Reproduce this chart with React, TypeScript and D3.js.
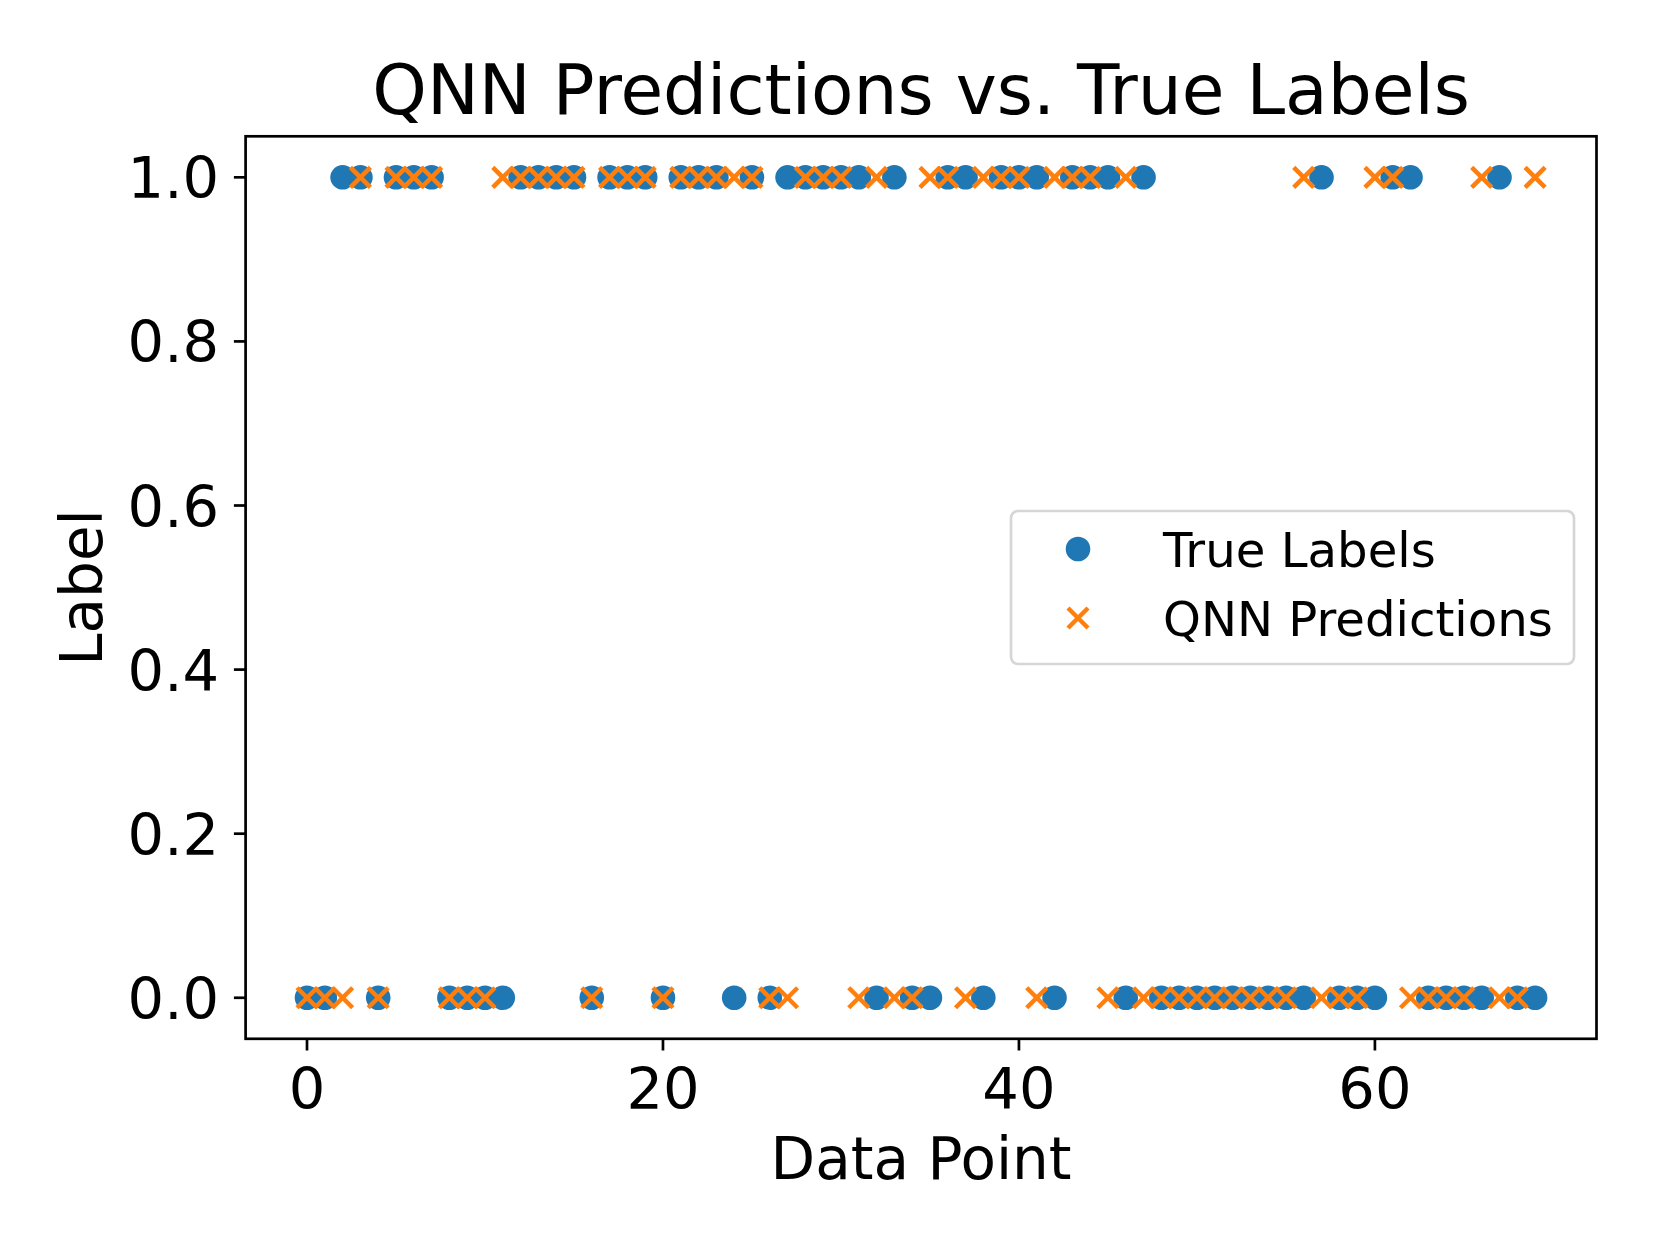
import React from 'react';
import * as d3 from 'd3';

// values, one per data point (index 0..69)
const trueLabels = [
  0, 0, 1, 1, 0, 1, 1, 1, 0, 0, 0, 0, 1, 1, 1, 1, 0, 1, 1, 1,
  0, 1, 1, 1, 0, 1, 0, 1, 1, 1, 1, 1, 0, 1, 0, 0, 1, 1, 0, 1,
  1, 1, 0, 1, 1, 1, 0, 1, 0, 0, 0, 0, 0, 0, 0, 0, 0, 1, 0, 0,
  0, 1, 1, 0, 0, 0, 0, 1, 0, 0,
];
const predictions = [
  0, 0, 0, 1, 0, 1, 1, 1, 0, 0, 0, 1, 1, 1, 1, 1, 0, 1, 1, 1,
  0, 1, 1, 1, 1, 1, 0, 0, 1, 1, 1, 0, 1, 0, 0, 1, 1, 0, 1, 1,
  1, 0, 1, 1, 1, 0, 1, 0, 0, 0, 0, 0, 0, 0, 0, 0, 1, 0, 0, 0,
  1, 1, 0, 0, 0, 0, 1, 0, 0, 1,
];
const xTicks = [0, 20, 40, 60];
const yTicks = [0, 0.2, 0.4, 0.6, 0.8, 1.0];
const seriesNames = ['True Labels', 'QNN Predictions'];

const W = 1660;
const H = 1245;
const left = 245.6, right = 1596.5, top = 136.3, bottom = 1038.8;
const font = 'DejaVu Sans, sans-serif';
const blue = '#1f77b4';
const orange = '#ff7f0e';

function Cross({ cx, cy, r, color, w }) {
  return (
    <g stroke={color} strokeWidth={w}>
      <line x1={cx - r} y1={cy - r} x2={cx + r} y2={cy + r} />
      <line x1={cx - r} y1={cy + r} x2={cx + r} y2={cy - r} />
    </g>
  );
}

export default function App() {
  const n = trueLabels.length;
  // matplotlib-style 5% margins
  const pad = (n - 1) * 0.05;
  const x = d3.scaleLinear().domain([-pad, n - 1 + pad]).range([left, right]);
  const y = d3.scaleLinear().domain([-0.05, 1.05]).range([bottom, top]);
  const idx = d3.range(n);

  return (
    <svg width={W} height={H} style={{ position: 'absolute', left: 0, top: 0, background: '#fff' }}
      fontFamily={font}>
      <rect width={W} height={H} fill="#fff" />
      {/* points */}
      {idx.map(i => (
        <circle key={'c' + i} cx={x(i)} cy={y(trueLabels[i])} r={12.3} fill={blue} />
      ))}
      {idx.map(i => (
        <Cross key={'x' + i} cx={x(i)} cy={y(predictions[i])} r={10} color={orange} w={4.5} />
      ))}

      {/* frame */}
      <rect x={left} y={top} width={right - left} height={bottom - top} fill="none" stroke="#000" strokeWidth={2.7} />

      {/* x axis */}
      {xTicks.map(t => (
        <g key={'xt' + t}>
          <line x1={x(t)} x2={x(t)} y1={bottom} y2={bottom + 11.7} stroke="#000" strokeWidth={2.7} />
          <text x={x(t)} y={1109} fontSize={57.5} textAnchor="middle">{t}</text>
        </g>
      ))}
      <text x={(left + right) / 2} y={1179} fontSize={58} textAnchor="middle">Data Point</text>

      {/* y axis */}
      {yTicks.map(t => (
        <g key={'yt' + t}>
          <line x1={left - 11.7} x2={left} y1={y(t)} y2={y(t)} stroke="#000" strokeWidth={2.7} />
          <text x={219} y={y(t) + 21} fontSize={57.5} textAnchor="end">{t.toFixed(1)}</text>
        </g>
      ))}
      <text transform={`translate(102,${(top + bottom) / 2}) rotate(-90)`} fontSize={58} textAnchor="middle">Label</text>

      {/* title */}
      <text x={(left + right) / 2} y={114} fontSize={69.4} textAnchor="middle">QNN Predictions vs. True Labels</text>

      {/* legend */}
      <g>
        <rect x={1011} y={511} width={563} height={153} rx={7} fill="#fff" fillOpacity={0.8}
          stroke="#d6d6d6" strokeWidth={2.7} />
        <circle cx={1078} cy={549} r={12.3} fill={blue} />
        <text x={1163} y={567} fontSize={48.2}>{seriesNames[0]}</text>
        <Cross cx={1078} cy={618} r={10} color={orange} w={4.5} />
        <text x={1163} y={636} fontSize={48.2}>{seriesNames[1]}</text>
      </g>
    </svg>
  );
}
